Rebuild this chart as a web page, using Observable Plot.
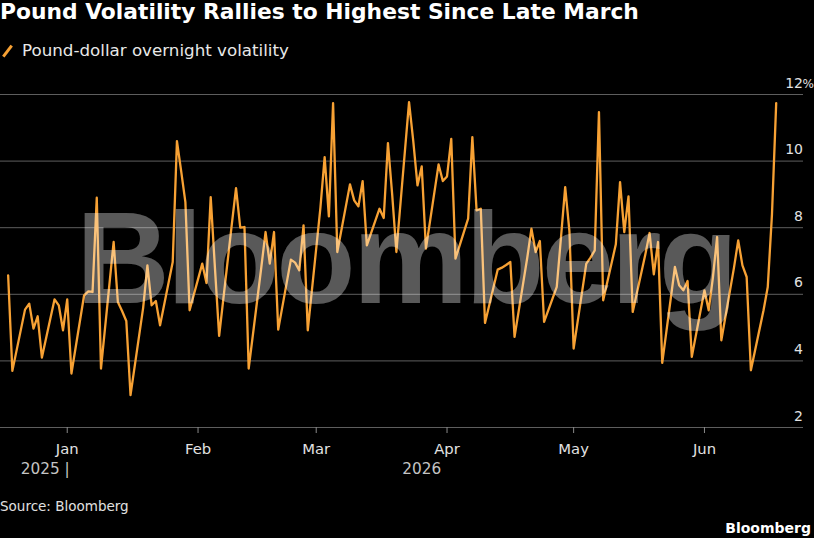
<!DOCTYPE html>
<html><head><meta charset="utf-8">
<script src="https://cdn.jsdelivr.net/npm/d3@7"></script>
<script src="https://cdn.jsdelivr.net/npm/@observablehq/plot@0.6"></script>
<style>
html,body{margin:0;padding:0;background:#000;}
#wrap{position:relative;width:814px;height:538px;overflow:hidden;background:#000;font-family:"DejaVu Sans",sans-serif;}
.abs{position:absolute;white-space:nowrap;line-height:1;}
#title{left:0;top:1px;font-size:21.8px;font-weight:bold;color:#fff;}
#legend{left:22px;top:41.5px;font-size:16.7px;color:#e8e8e8;}
#icon{position:absolute;left:0;top:43px;}
#chart{position:absolute;left:0;top:64px;}
#wm{left:0;width:814px;text-align:center;top:193px;font-family:"Liberation Sans",Arial,sans-serif;font-weight:bold;font-size:130px;letter-spacing:-3px;text-indent:-3px;color:rgba(255,255,255,0.35);pointer-events:none;}
#source{left:0;top:499.6px;font-size:13.5px;color:#e0e0e0;}
#logo{right:3px;top:520.7px;font-size:14px;font-weight:bold;color:#fff;}
</style>
</head><body>
<div id="wrap">
  <div id="title" class="abs">Pound Volatility Rallies to Highest Since Late March</div>
  <svg id="icon" width="16" height="16"><line x1="3.3" y1="13.7" x2="11.7" y2="2.7" stroke="#f7a134" stroke-width="3"/></svg>
  <div id="legend" class="abs">Pound-dollar overnight volatility</div>
  <div id="chart"></div>
  <div id="wm" class="abs">Bloomberg</div>
  <div id="source" class="abs">Source: Bloomberg</div>
  <div id="logo" class="abs">Bloomberg</div>
</div>
<script>
const dates = [
  "2025-12-18","2025-12-19","2025-12-22","2025-12-23","2025-12-24","2025-12-25","2025-12-26","2025-12-29","2025-12-30","2025-12-31",
  "2026-01-01","2026-01-02","2026-01-05","2026-01-06","2026-01-07","2026-01-08","2026-01-09","2026-01-12","2026-01-13","2026-01-14","2026-01-15","2026-01-16","2026-01-19","2026-01-20","2026-01-21","2026-01-22","2026-01-23","2026-01-26","2026-01-27","2026-01-28","2026-01-29","2026-01-30",
  "2026-02-02","2026-02-03","2026-02-04","2026-02-05","2026-02-06","2026-02-09","2026-02-10","2026-02-11","2026-02-12","2026-02-13","2026-02-16","2026-02-17","2026-02-18","2026-02-19","2026-02-20","2026-02-23","2026-02-24","2026-02-25","2026-02-26","2026-02-27",
  "2026-03-02","2026-03-03","2026-03-04","2026-03-05","2026-03-06","2026-03-09","2026-03-10","2026-03-11","2026-03-12","2026-03-13","2026-03-16","2026-03-17","2026-03-18","2026-03-19","2026-03-20","2026-03-23","2026-03-24","2026-03-25","2026-03-26","2026-03-27","2026-03-30","2026-03-31",
  "2026-04-01","2026-04-02","2026-04-03","2026-04-06","2026-04-07","2026-04-08","2026-04-09","2026-04-10","2026-04-13","2026-04-14","2026-04-15","2026-04-16","2026-04-17","2026-04-20","2026-04-21","2026-04-22","2026-04-23","2026-04-24","2026-04-27","2026-04-28","2026-04-29","2026-04-30",
  "2026-05-01","2026-05-04","2026-05-05","2026-05-06","2026-05-07","2026-05-08","2026-05-11","2026-05-12","2026-05-13","2026-05-14","2026-05-15","2026-05-18","2026-05-19","2026-05-20","2026-05-21","2026-05-22","2026-05-25","2026-05-26","2026-05-27","2026-05-28","2026-05-29",
  "2026-06-01","2026-06-02","2026-06-03","2026-06-04","2026-06-05","2026-06-08","2026-06-09","2026-06-10","2026-06-11","2026-06-12","2026-06-15","2026-06-16","2026-06-17","2026-06-18"
];
const vols = [
  6.57,3.70,5.54,5.72,4.97,5.34,4.10,5.85,5.67,4.92,
  5.85,3.62,5.97,6.09,6.07,8.90,3.77,7.57,5.77,5.50,5.20,2.97,5.60,6.87,5.67,5.80,5.07,6.97,10.60,9.70,8.77,5.52,
  6.92,6.34,8.92,6.80,4.75,8.10,9.19,8.00,8.02,3.77,6.82,7.87,6.92,7.87,4.94,7.04,6.95,6.72,8.07,4.92,
  8.60,10.12,8.34,11.74,7.27,9.30,8.82,8.64,9.40,7.47,8.57,8.29,10.54,9.00,7.27,11.77,10.60,9.27,9.84,7.37,9.90,9.40,
  9.54,10.67,7.07,8.27,10.72,8.52,8.57,5.14,6.74,6.80,6.88,6.97,4.72,7.09,7.97,7.27,7.60,5.17,6.22,7.70,9.22,7.90,
  4.37,6.92,7.10,7.32,11.47,5.82,7.50,9.37,7.87,8.94,5.47,7.20,7.84,6.60,7.57,3.94,6.82,6.27,6.12,6.40,4.12,
  6.12,5.52,6.50,7.72,4.62,6.80,7.62,6.87,6.52,3.72,5.52,6.22,8.40,11.74
];
const yTicks = [2, 4, 6, 8, 10, 12];
const monthTicks = ["2026-01-01","2026-02-01","2026-03-01","2026-04-01","2026-05-01","2026-06-01"];
const monthLabels = ["Jan","Feb","Mar","Apr","May","Jun"];
const yearLabels = ["2025 |", "2026"];

const utc = s => new Date(s + "T00:00:00Z");
const data = dates.map((d, i) => ({date: utc(d), v: vols[i]}));
const mDates = monthTicks.map(utc);
const lastDate = data[data.length - 1].date;
const yearPos = [mDates[0], new Date((mDates[0].getTime() + lastDate.getTime()) / 2)];

const xDomain = [new Date(Date.UTC(2025, 11, 16, 4, 33)), new Date(Date.UTC(2026, 5, 24, 11, 17))];

const chart = Plot.plot({
  width: 814, height: 416,
  marginLeft: 0, marginRight: 11, marginTop: 30, marginBottom: 53,
  style: {background: "transparent", fontFamily: "DejaVu Sans", overflow: "visible"},
  x: {type: "utc", domain: xDomain, axis: null},
  y: {domain: [2, 12], axis: null},
  marks: [
    Plot.ruleY(yTicks, {y: d => d, stroke: "#5e5e5e", strokeWidth: 1}),
    Plot.axisX({
      ticks: mDates,
      tickFormat: d => monthLabels[mDates.findIndex(m => +m === +d)],
      tickSize: 6, tickPadding: 9.5,
      fontSize: 14.8, stroke: "#8a8a8a", fill: "#e2e2e2"
    }),
    Plot.text([0], {x: () => yearPos[0], text: () => yearLabels[0], frameAnchor: "bottom", lineAnchor: "bottom", dy: 46, dx: 2.5, textAnchor: "end", fontSize: 15.3, fill: "#c4c4c4"}),
    Plot.text([1], {x: () => yearPos[1], text: () => yearLabels[1], frameAnchor: "bottom", lineAnchor: "bottom", dy: 46, textAnchor: "middle", fontSize: 15.3, fill: "#c4c4c4"}),
    Plot.lineY(data, {x: "date", y: "v", stroke: "#f7a134", strokeWidth: 2.3, strokeLinejoin: "round"}),
    Plot.text(yTicks, {y: d => d, text: d => String(d), frameAnchor: "right", textAnchor: "end", lineAnchor: "bottom", dx: -0.5, dy: -7, fontSize: 14, fill: "#e2e2e2"}),
    Plot.text([yTicks[yTicks.length - 1]], {y: d => d, text: () => "%", frameAnchor: "right", textAnchor: "start", lineAnchor: "bottom", dx: -1, dy: -7, fontSize: 12, fill: "#e2e2e2"})
  ]
});
document.getElementById("chart").appendChild(chart);
</script>
</body></html>
